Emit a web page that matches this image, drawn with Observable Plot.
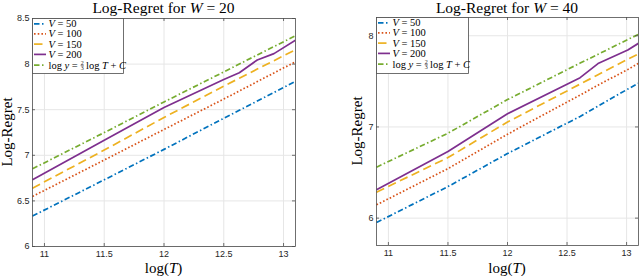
<!DOCTYPE html>
<html><head><meta charset="utf-8">
<script src="https://cdn.jsdelivr.net/npm/d3@7"></script>
<script src="https://cdn.jsdelivr.net/npm/@observablehq/plot@0.6"></script>
<style>
body{margin:0;background:#fff;}
#wrap{position:relative;width:640px;height:276px;overflow:hidden;}
.panel{position:absolute;top:0;width:320px;height:276px;}
.panel svg{position:absolute;left:0;top:0;}
</style></head><body><div id="wrap"></div>
<script>
// ---- data ----
const seriesLabels = ["V = 50", "V = 100", "V = 150", "V = 200", "ref"];
const colors = ["#0072BD", "#D95319", "#EDB120", "#7E2F8E", "#77AC30"];
const dashes = ["5.5,2.5,1.5,2.5", "1.6,2.1", "8.5,4.5", "none", "5.5,2.5,1.5,2.5"];
const xTicks = [11, 11.5, 12, 12.5, 13];
const yTicksW20 = [6, 6.5, 7, 7.5, 8, 8.5];
const yTicksW40 = [6, 7, 8];

const logT_W20 = [10.9, 11.5, 12.0, 12.5, 12.63, 12.78, 12.92, 13.1];
const v50_W20  = [6.334, 6.731, 7.065, 7.406, 7.493, 7.595, 7.689, 7.811];
const v100_W20 = [6.549, 6.948, 7.283, 7.617, 7.705, 7.808, 7.903, 8.026];
const v150_W20 = [6.640, 7.057, 7.415, 7.758, 7.845, 7.945, 8.038, 8.158];
const v200_W20 = [6.732, 7.166, 7.525, 7.830, 7.905, 8.045, 8.115, 8.263];
const ref_W20  = [6.852, 7.249, 7.585, 7.914, 8.001, 8.100, 8.192, 8.311];

const logT_W40 = [10.9, 11.5, 12.0, 12.61, 12.76, 13.01, 13.1];
const v50_W40  = [5.952, 6.346, 6.708, 7.115, 7.228, 7.415, 7.479];
const v100_W40 = [6.146, 6.543, 6.920, 7.350, 7.458, 7.630, 7.698];
const v150_W40 = [6.285, 6.664, 7.054, 7.470, 7.572, 7.742, 7.800];
const v200_W40 = [6.310, 6.730, 7.145, 7.540, 7.695, 7.843, 7.917];
const ref_W40  = [6.559, 6.931, 7.300, 7.700, 7.796, 7.959, 8.015];

const SERIF = "'Liberation Serif', 'Times New Roman', serif";
const SANS = "'Liberation Sans', Arial, sans-serif";

function makePanel(opts) {
  const {left, W, xs, ys, yDomain, yTicks, ml, mr, mt, mb, yLabelX, legend} = opts;
  const width = 320, height = 276;
  const pw = width - ml - mr, ph = height - mt - mb;
  const marks = [
    Plot.gridX(xTicks, {stroke: "#e6e6e6", strokeOpacity: 1}),
    Plot.gridY(yTicks, {stroke: "#e6e6e6", strokeOpacity: 1}),
  ];
  ys.forEach((vals, s) => {
    const d = vals.map((v, i) => ({x: xs[i], y: v}));
    marks.push(Plot.line(d, {x: "x", y: "y", stroke: colors[s], strokeWidth: 1.7,
      strokeDasharray: dashes[s], strokeLinecap: "butt", strokeLinejoin: "round", clip: true}));
  });
  marks.push(
    Plot.frame({stroke: "#4d4d4d", strokeWidth: 0.8}),
    Plot.tickX(xTicks, {x: d => d, insetTop: ph - 3, stroke: "#4d4d4d", strokeWidth: 0.8}),
    Plot.tickX(xTicks, {x: d => d, insetBottom: ph - 3, stroke: "#4d4d4d", strokeWidth: 0.8}),
    Plot.tickY(yTicks, {y: d => d, insetRight: pw - 3, stroke: "#4d4d4d", strokeWidth: 0.8}),
    Plot.tickY(yTicks, {y: d => d, insetLeft: pw - 3, stroke: "#4d4d4d", strokeWidth: 0.8}),
    Plot.axisX(xTicks, {tickSize: 0, tickPadding: 4, label: null, tickFormat: d => String(d), fill: "#262626"}),
    Plot.axisY(yTicks, {tickSize: 0, tickPadding: 3, label: null, tickFormat: d => String(d), fill: "#262626"})
  );
  const chart = Plot.plot({
    width, height, marginLeft: ml, marginRight: mr, marginTop: mt, marginBottom: mb,
    x: {domain: [10.9, 13.1]},
    y: {domain: yDomain},
    style: {fontFamily: SANS, fontSize: "9px", color: "#262626", background: "white"},
    marks
  });
  const div = document.createElement("div");
  div.className = "panel";
  div.style.left = left + "px";
  div.appendChild(chart);
  document.getElementById("wrap").appendChild(div);

  const svg = d3.select(chart);
  const cx = ml + pw / 2;
  // title
  const t = svg.append("text").attr("x", cx).attr("y", 12.5).attr("text-anchor", "middle")
    .attr("font-family", SERIF).attr("font-size", 15.5).attr("fill", "#000");
  t.append("tspan").text("Log-Regret for ");
  t.append("tspan").attr("font-style", "italic").text("W");
  t.append("tspan").text(" = " + W);
  // x label
  const xl = svg.append("text").attr("x", cx).attr("y", 272.5).attr("text-anchor", "middle")
    .attr("font-family", SERIF).attr("font-size", 15).attr("fill", "#000");
  xl.append("tspan").text("log(");
  xl.append("tspan").attr("font-style", "italic").text("T");
  xl.append("tspan").text(")");
  // y label
  svg.append("text").attr("transform", `translate(${yLabelX},${mt + ph / 2}) rotate(-90)`)
    .attr("text-anchor", "middle").attr("font-family", SERIF).attr("font-size", 15)
    .attr("fill", "#000").text("Log-Regret");

  // legend
  const [bx, by, bw, bh] = legend;
  const g = svg.append("g").attr("text-anchor", "start");
  g.append("rect").attr("x", bx + 0.5).attr("y", by + 0.5).attr("width", bw).attr("height", bh)
    .attr("fill", "white").attr("stroke", "#4d4d4d").attr("stroke-width", 0.8);
  const rows = [5.8, 15.9, 26.1, 36.4, 47.2];
  seriesLabels.forEach((lab, s) => {
    const ry = by + rows[s];
    g.append("line").attr("x1", bx + 2).attr("x2", bx + 14).attr("y1", ry).attr("y2", ry)
      .attr("stroke", colors[s]).attr("stroke-width", 1.7).attr("stroke-dasharray", dashes[s]);
    const tx = bx + 16.5;
    if (s < 4) {
      const tt = g.append("text").attr("x", tx).attr("y", ry + 3.4).attr("text-anchor", "start")
        .attr("font-family", SERIF).attr("font-size", 10.5).attr("fill", "#000");
      const parts = lab.split(" = ");
      tt.append("tspan").attr("font-style", "italic").text(parts[0]);
      tt.append("tspan").text(" = " + parts[1]);
    } else {
      const t1 = g.append("text").attr("x", tx).attr("y", ry + 3.4).attr("text-anchor", "start")
        .attr("font-family", SERIF).attr("font-size", 10.5).attr("fill", "#000");
      t1.append("tspan").text("log ");
      t1.append("tspan").attr("font-style", "italic").text("y");
      t1.append("tspan").text(" = ");
      const w1 = t1.node().getComputedTextLength();
      const fx = tx + w1 + 1.8;
      g.append("text").attr("x", fx).attr("y", ry - 0.6).attr("text-anchor", "middle")
        .attr("font-family", SERIF).attr("font-size", 6).text("2");
      g.append("line").attr("x1", fx - 1.6).attr("x2", fx + 1.6).attr("y1", ry + 0.2).attr("y2", ry + 0.2)
        .attr("stroke", "#000").attr("stroke-width", 0.4);
      g.append("text").attr("x", fx).attr("y", ry + 4.6).attr("text-anchor", "middle")
        .attr("font-family", SERIF).attr("font-size", 6).text("3");
      const t2 = g.append("text").attr("x", fx + 3.8).attr("y", ry + 3.4).attr("text-anchor", "start")
        .attr("font-family", SERIF).attr("font-size", 10.5).attr("fill", "#000");
      t2.append("tspan").text("log ");
      t2.append("tspan").attr("font-style", "italic").text("T");
      t2.append("tspan").text(" + ");
      t2.append("tspan").attr("font-style", "italic").text("C");
    }
  });
}

makePanel({left: 0, W: 20, xs: logT_W20,
  ys: [v50_W20, v100_W20, v150_W20, v200_W20, ref_W20],
  yDomain: [6, 8.5], yTicks: yTicksW20, ml: 32, mr: 25, mt: 18, mb: 30, yLabelX: 12,
  legend: [32, 18, 91, 55]});
makePanel({left: 320, W: 40, xs: logT_W40,
  ys: [v50_W40, v100_W40, v150_W40, v200_W40, ref_W40],
  yDomain: [5.7, 8.2], yTicks: yTicksW40, ml: 56, mr: 2, mt: 17, mb: 31, yLabelX: 42,
  legend: [56, 17, 92, 56]});
</script></body></html>
